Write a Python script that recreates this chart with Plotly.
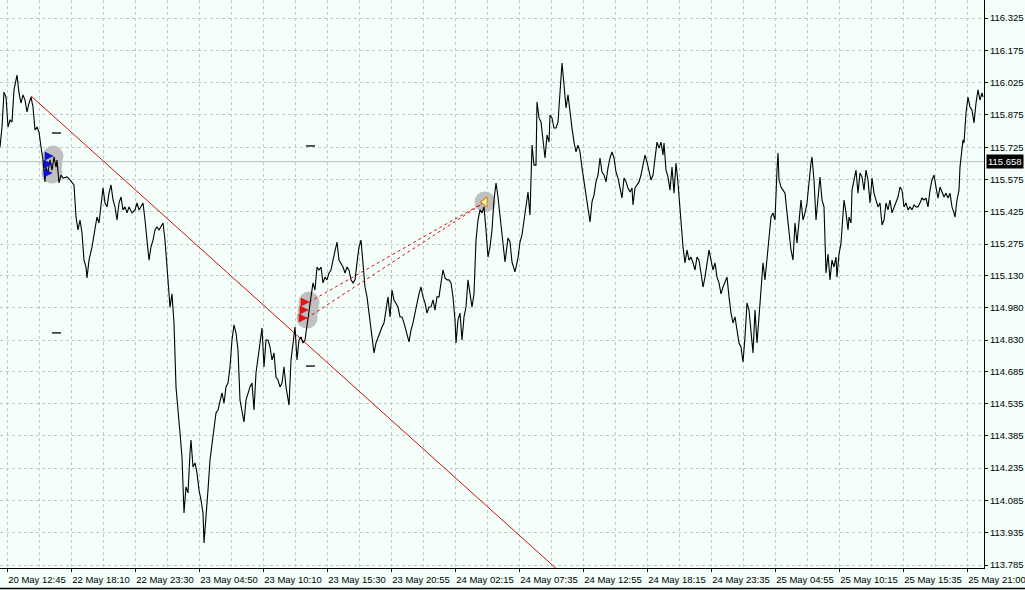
import plotly.graph_objects as go

# ---- price series (M5 bars, bar index counted from left edge) ----
bar = [0, 2, 4, 6, 8, 10, 12, 14, 17, 19, 21, 23, 25, 27, 29, 31, 33, 35, 37, 39, 41, 43, 45, 46, 48, 50,
       52, 54, 56, 57, 59, 61, 63, 67, 70, 73, 74, 76, 78, 80, 82, 84, 86, 87, 89, 92, 95, 97, 99, 101,
       103, 105, 107, 109, 111, 113, 115, 117, 119, 121, 123, 125, 127, 129, 132, 135, 137, 139, 141, 143,
       145, 147, 149, 151, 153, 155, 157, 159, 161, 163, 165, 167, 168, 170, 172, 174, 176, 178, 180, 182,
       184, 186, 188, 190, 191, 193, 195, 197, 199, 201, 203, 204, 206, 208, 210, 212, 214, 216, 218, 220,
       222, 224, 226, 228, 230, 232, 234, 236, 238, 240, 242, 244, 246, 248, 250, 252, 254, 256, 258, 260,
       262, 264, 266, 268, 270, 272, 274, 276, 278, 280, 282, 284, 286, 288, 289, 291, 293, 295, 297, 299,
       301, 303, 305, 307, 309, 311, 313, 315, 317, 319, 321, 323, 325, 327, 329, 331, 333, 335, 337, 339,
       341, 343, 345, 347, 349, 351, 353, 355, 357, 359, 361, 363, 365, 367, 369, 371, 373, 374, 376, 378,
       380, 382, 384, 386, 388, 390, 392, 394, 396, 398, 400, 402, 404, 406, 408, 409, 411, 413, 415, 417,
       419, 421, 423, 425, 427, 429, 431, 433, 435, 437, 439, 441, 443, 445, 447, 449, 451, 453, 455, 456,
       458, 460, 462, 464, 466, 468, 470, 472, 474, 476, 478, 480, 482, 484, 486, 488, 490, 492, 494, 496,
       498, 501, 503, 505, 508, 510, 512, 515, 518, 520, 522, 524, 526, 528, 530, 531, 532, 534, 536, 537,
       539, 541, 543, 545, 547, 549, 550, 552, 554, 556, 558, 560, 562, 564, 566, 568, 570, 572, 574, 576,
       578, 580, 582, 584, 586, 588, 590, 592, 594, 596, 598, 600, 602, 604, 606, 608, 610, 612, 614, 616,
       618, 620, 622, 624, 626, 628, 630, 632, 633, 635, 637, 639, 641, 643, 645, 647, 649, 651, 653, 655,
       657, 659, 661, 663, 664, 666, 668, 670, 672, 674, 676, 678, 680, 682, 683, 685, 687, 689, 691, 693,
       695, 697, 699, 701, 703, 705, 707, 709, 711, 713, 715, 717, 719, 721, 723, 725, 727, 729, 731, 733,
       735, 737, 739, 741, 743, 745, 747, 749, 751, 753, 755, 757, 759, 761, 763, 765, 767, 769, 771, 773,
       775, 777, 778, 779, 781, 783, 785, 787, 789, 791, 793, 795, 797, 799, 801, 803, 805, 807, 809, 811,
       812, 814, 816, 818, 820, 822, 824, 826, 828, 830, 832, 834, 836, 837, 839, 841, 843, 844, 846, 848,
       849, 851, 852, 854, 856, 858, 860, 862, 864, 866, 868, 870, 872, 874, 876, 878, 880, 882, 884, 886,
       888, 890, 892, 894, 896, 898, 900, 902, 904, 906, 908, 910, 912, 914, 916, 918, 920, 922, 924, 926,
       928, 930, 932, 934, 936, 938, 940, 942, 944, 946, 948, 950, 952, 954, 955, 957, 959, 960, 962, 963,
       964, 966, 968, 970, 972, 974, 976, 978, 980, 982, 983]

close = [115.726, 115.819, 115.981, 115.958, 115.819, 115.851, 115.842, 115.991, 116.060, 115.977, 115.930,
         115.968, 115.944, 115.889, 115.930, 115.958, 115.912, 115.805, 115.819, 115.796, 115.726, 115.666,
         115.564, 115.633, 115.605, 115.666, 115.619, 115.680, 115.633, 115.666, 115.559, 115.596, 115.582,
         115.587, 115.573, 115.559, 115.550, 115.401, 115.341, 115.387, 115.327, 115.201, 115.169, 115.118,
         115.201, 115.262, 115.341, 115.401, 115.373, 115.466, 115.536, 115.466, 115.448, 115.512, 115.550,
         115.480, 115.448, 115.387, 115.466, 115.494, 115.434, 115.448, 115.420, 115.448, 115.420, 115.434,
         115.466, 115.434, 115.448, 115.466, 115.387, 115.280, 115.201, 115.262, 115.294, 115.341, 115.355,
         115.341, 115.355, 115.373, 115.294, 115.169, 115.062, 114.983, 115.044, 114.909, 114.612, 114.519,
         114.398, 114.287, 114.027, 114.148, 114.120, 114.305, 114.366, 114.240, 114.259, 114.213, 114.134,
         114.087, 114.027, 113.888, 113.994, 114.134, 114.273, 114.352, 114.412, 114.491, 114.505, 114.551,
         114.584, 114.537, 114.612, 114.630, 114.705, 114.830, 114.900, 114.863, 114.784, 114.551, 114.505,
         114.449, 114.551, 114.584, 114.612, 114.630, 114.505, 114.677, 114.737, 114.816, 114.886, 114.705,
         114.830, 114.830, 114.798, 114.737, 114.770, 114.658, 114.644, 114.612, 114.630, 114.705, 114.612,
         114.565, 114.528, 114.737, 114.830, 114.890, 114.737, 114.830, 114.844, 114.816, 114.830, 114.890,
         114.969, 115.030, 115.095, 115.062, 115.169, 115.155, 115.169, 115.095, 115.122, 115.109, 115.141,
         115.155, 115.201, 115.239, 115.285, 115.201, 115.188, 115.169, 115.141, 115.169, 115.155, 115.109,
         115.095, 115.109, 115.188, 115.262, 115.294, 115.169, 115.076, 115.030, 114.955, 114.890, 114.798,
         114.770, 114.816, 114.844, 114.863, 114.890, 114.909, 114.969, 115.030, 114.937, 115.062, 115.016,
         115.002, 114.983, 114.937, 114.937, 114.909, 114.876, 114.844, 114.821, 114.876, 114.909, 114.955,
         115.002, 115.044, 115.076, 115.030, 115.002, 114.955, 114.983, 114.983, 115.016, 114.969, 115.030,
         115.030, 115.095, 115.155, 115.118, 115.109, 115.109, 115.095, 115.030, 114.923, 114.816, 114.923,
         114.955, 114.830, 114.937, 114.983, 115.109, 115.044, 114.983, 115.044, 115.294, 115.387, 115.434,
         115.420, 115.448, 115.341, 115.215, 115.262, 115.341, 115.480, 115.559, 115.494, 115.350, 115.271,
         115.192, 115.304, 115.285, 115.192, 115.146, 115.211, 115.285, 115.318, 115.378, 115.457, 115.517,
         115.410, 115.564, 115.735, 115.642, 115.642, 115.935, 115.861, 115.842, 115.749, 115.675, 115.782,
         115.749, 115.875, 115.861, 115.814, 115.814, 115.842, 115.968, 116.116, 116.014, 115.907, 115.968,
         115.875, 115.814, 115.749, 115.703, 115.735, 115.703, 115.629, 115.564, 115.503, 115.424, 115.378,
         115.471, 115.503, 115.564, 115.596, 115.675, 115.610, 115.596, 115.564, 115.629, 115.675, 115.703,
         115.675, 115.610, 115.582, 115.536, 115.489, 115.582, 115.564, 115.536, 115.517, 115.536, 115.457,
         115.536, 115.550, 115.564, 115.596, 115.642, 115.689, 115.656, 115.610, 115.573, 115.596, 115.675,
         115.749, 115.721, 115.749, 115.689, 115.745, 115.619, 115.587, 115.526, 115.633, 115.512, 115.652,
         115.559, 115.434, 115.280, 115.262, 115.188, 115.248, 115.201, 115.215, 115.188, 115.155, 115.215,
         115.201, 115.141, 115.076, 115.122, 115.188, 115.248, 115.201, 115.155, 115.188, 115.122, 115.095,
         115.044, 115.076, 115.095, 115.122, 115.030, 114.955, 114.909, 114.937, 114.876, 114.816, 114.798,
         114.728, 114.844, 115.002, 114.969, 114.876, 114.770, 114.969, 114.816, 114.937, 115.076, 115.188,
         115.109, 115.201, 115.308, 115.401, 115.420, 115.387, 115.619, 115.698, 115.573, 115.540, 115.526,
         115.512, 115.420, 115.341, 115.248, 115.201, 115.373, 115.280, 115.387, 115.480, 115.387, 115.420,
         115.466, 115.573, 115.652, 115.680, 115.573, 115.387, 115.494, 115.587, 115.480, 115.448, 115.141,
         115.229, 115.109, 115.201, 115.169, 115.215, 115.122, 115.229, 115.280, 115.387, 115.480, 115.420,
         115.341, 115.401, 115.373, 115.526, 115.573, 115.619, 115.512, 115.605, 115.587, 115.526, 115.619,
         115.573, 115.466, 115.582, 115.512, 115.480, 115.448, 115.466, 115.364, 115.387, 115.466, 115.434,
         115.480, 115.420, 115.448, 115.466, 115.494, 115.540, 115.526, 115.448, 115.466, 115.434, 115.448,
         115.434, 115.457, 115.448, 115.448, 115.466, 115.489, 115.480, 115.489, 115.448, 115.526, 115.573,
         115.596, 115.540, 115.489, 115.540, 115.512, 115.494, 115.512, 115.489, 115.512, 115.448, 115.420,
         115.401, 115.480, 115.526, 115.633, 115.726, 115.759, 115.745, 115.884, 115.958, 115.912, 115.898,
         115.838, 115.930, 115.991, 115.944, 115.977, 115.958]

# ---- axis labels ----
x_tick_bars = [7, 71, 135, 199, 263, 327, 391, 455, 519, 583, 647, 711, 775, 839, 903, 967]
x_tick_labels = ["20 May 12:45", "22 May 18:10", "22 May 23:30", "23 May 04:50", "23 May 10:10",
                 "23 May 15:30", "23 May 20:55", "24 May 02:15", "24 May 07:35", "24 May 12:55",
                 "24 May 18:15", "24 May 23:35", "25 May 04:55", "25 May 10:15", "25 May 15:35",
                 "25 May 21:00"]
y_tick_labels = ["116.325", "116.175", "116.025", "115.875", "115.725", "115.575", "115.425", "115.275",
                 "115.130", "114.980", "114.830", "114.685", "114.535", "114.385", "114.235", "114.085",
                 "113.935", "113.785"]
y_min, y_max = 113.7714, 116.4086
x_max = 984

# ---- objects on the chart ----
current_price = 115.658
trend_bars = [31, 560]
trend_prices = [115.963, 113.753]
buy_bars = [53, 52, 52]
buy_prices = [115.684, 115.647, 115.605]
sell_bars = [309, 308, 307]
sell_prices = [115.006, 114.969, 114.932]
exit_bar = 485
exit_price = 115.471
mark_bars_a = [52, 61]
mark_prices_a = [115.791, 114.863]
mark_bars_b = [306, 315]
mark_prices_b = [115.731, 114.709]

BG = "#F3FFF8"
GRID = "#C4C8C6"
HL = "#C0C0C0"

fig = go.Figure()

# grey highlight blobs
fig.add_trace(go.Scatter(x=buy_bars + sell_bars + [exit_bar], y=buy_prices + sell_prices + [exit_price],
                         mode="markers", marker=dict(size=21, color=HL, line=dict(width=0)),
                         hoverinfo="skip"))

# trend line
fig.add_trace(go.Scatter(x=trend_bars, y=trend_prices, mode="lines",
                         line=dict(color="#D01010", width=1)))

# price line
fig.add_trace(go.Scatter(x=bar, y=close, mode="lines", line=dict(color="black", width=1.1)))

# dashed links
for b, p in [(sell_bars[0], sell_prices[0]), (sell_bars[2], sell_prices[2])]:
    fig.add_trace(go.Scatter(x=[b, exit_bar], y=[p, exit_price], mode="lines",
                             line=dict(color="#D01010", width=1, dash="3px,3px")))

# short level marks
for bars, prices in [(mark_bars_a, mark_prices_a), (mark_bars_b, mark_prices_b)]:
    for p in prices:
        fig.add_trace(go.Scatter(x=bars, y=[p, p], mode="lines", line=dict(color="black", width=1.3)))

# arrows
fig.add_trace(go.Scatter(x=buy_bars, y=buy_prices, mode="markers",
                         marker=dict(symbol="arrow-right", size=8, color="#1010E0",
                                     line=dict(width=0.5, color="#0000A0"))))
fig.add_trace(go.Scatter(x=sell_bars, y=sell_prices, mode="markers",
                         marker=dict(symbol="arrow-right", size=8, color="#F01010",
                                     line=dict(width=0.5, color="#B00000"))))
fig.add_trace(go.Scatter(x=[exit_bar], y=[exit_price], mode="markers",
                         marker=dict(symbol="triangle-left", size=9, color="#FFF0B0",
                                     line=dict(width=1.2, color="#D09020"))))

fig.add_shape(type="line", xref="paper", x0=0, x1=1, yref="y", y0=current_price, y1=current_price,
              line=dict(color="#BDBDBD", width=1), layer="below")
fig.add_shape(type="line", xref="paper", x0=0, x1=1025 / 984, yref="paper", y0=-20.5 / 568, y1=-20.5 / 568,
              line=dict(color="black", width=1.5))

fig.add_annotation(xref="paper", x=1, y=current_price, yref="y", text=f"{current_price:.3f}",
                   showarrow=False, xanchor="left", xshift=2, bgcolor="black",
                   font=dict(color="white", size=9.5, family="Liberation Sans"), borderpad=1)

fig.update_layout(
    width=1025, height=590, margin=dict(l=0, r=41, t=0, b=22),
    paper_bgcolor=BG, plot_bgcolor=BG, showlegend=False,
    font=dict(family="Liberation Sans", size=9.5, color="black"),
    xaxis=dict(range=[0, x_max], tickmode="array", tickvals=x_tick_bars, ticktext=x_tick_labels,
               ticks="outside", ticklen=3, tickcolor="black", showline=True, linecolor="black",
               linewidth=1, showgrid=True, gridcolor=GRID, griddash="3px,3px", gridwidth=1,
               zeroline=False, ticklabelshift=30, ticklabeloverflow="allow",
               minor=dict(tickmode="linear", tick0=39, dtick=64, showgrid=True, gridcolor=GRID,
                          griddash="3px,3px", gridwidth=1, ticks="")),
    yaxis=dict(range=[y_min, y_max], side="right", tickmode="array",
               tickvals=[float(t) for t in y_tick_labels], ticktext=y_tick_labels,
               ticks="outside", ticklen=3, tickcolor="black", showline=True, linecolor="black",
               linewidth=1, showgrid=True, gridcolor=GRID, griddash="3px,3px", gridwidth=1,
               zeroline=False),
)

fig.write_html("out.html", config={"displayModeBar": False},
               post_script="document.body.style.margin='0';document.body.style.overflow='hidden';"
                           "document.body.style.background='" + BG + "';")
